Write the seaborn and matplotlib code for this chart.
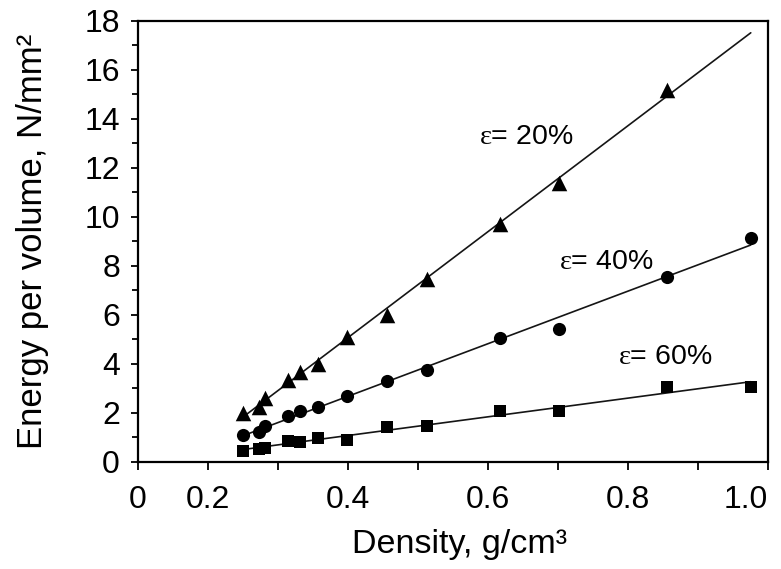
import numpy as np
import pandas as pd
import seaborn as sns
import matplotlib.pyplot as plt
from matplotlib.ticker import MultipleLocator

# Data
density = [0.250, 0.273, 0.282, 0.314, 0.332, 0.357, 0.399, 0.455, 0.512, 0.617, 0.701, 0.855, 0.975]
energy_20 = [2.0, 2.25, 2.6, 3.35, 3.65, 4.0, 5.1, 6.0, 7.45, 9.7, 11.4, 15.2, np.nan]
energy_40 = [1.07, 1.2, 1.45, 1.88, 2.05, 2.25, 2.7, 3.3, 3.75, 5.05, 5.4, 7.55, 9.15]
energy_60 = [0.45, 0.52, 0.55, 0.85, 0.8, 0.97, 0.9, 1.42, 1.47, 2.08, 2.08, 3.05, 3.05]
strains = ["20%", "40%", "60%"]
label_pos = {"20%": (0.654, 13.25), "40%": (0.769, 8.15), "60%": (0.853, 4.27)}

x_ticks = [0.1, 0.2, 0.4, 0.6, 0.8, 1.0]
x_tick_labels = ["0", "0.2", "0.4", "0.6", "0.8", "1.0"]
y_ticks = list(range(0, 19, 2))

df = pd.DataFrame({
    "density": density * 3,
    "energy": energy_20 + energy_40 + energy_60,
    "strain": [s for s in strains for _ in density],
}).dropna()

sns.set_style("ticks")
plt.rcParams["font.family"] = ["Liberation Sans", "DejaVu Sans"]
plt.rcParams["mathtext.fontset"] = "custom"
plt.rcParams["mathtext.rm"] = "Liberation Serif"
plt.rcParams["mathtext.default"] = "rm"
plt.rcParams["text.color"] = "black"
plt.rcParams["axes.labelcolor"] = "black"

fig = plt.figure(figsize=(7.81, 5.69), dpi=100)
ax = fig.add_axes([0.1767, 0.1886, 0.807, 0.7745])

markers = {"20%": "^", "40%": "o", "60%": "s"}
sizes = {"20%": 125, "40%": 90, "60%": 85}
xs = np.array([df["density"].min() - 0.006, df["density"].max()])

for strain in strains:
    sub = df[df["strain"] == strain]
    sns.scatterplot(data=sub, x="density", y="energy", marker=markers[strain],
                    s=sizes[strain], color="black", linewidth=0, ax=ax, zorder=3)
    slope, icpt = np.polyfit(sub["density"], sub["energy"], 1)
    sns.lineplot(x=xs, y=slope * xs + icpt, color="#151515", linewidth=1.2, ax=ax)
    tx, ty = label_pos[strain]
    ax.text(tx, ty, "$ε$= " + strain, fontsize=20.5, ha="center", va="center",
            color="black")

ax.set_xlim(0.1, 1.0)
ax.set_ylim(0, 18)
ax.set_xticks(x_ticks)
ax.set_xticklabels(x_tick_labels)
ax.get_xticklabels()[-1].set_horizontalalignment("right")
ax.xaxis.set_minor_locator(MultipleLocator(0.1))
ax.set_yticks(y_ticks)
ax.yaxis.set_minor_locator(MultipleLocator(1))

ax.tick_params(axis="both", which="both", direction="out", width=1.3, colors="black",
               labelsize=23)
ax.tick_params(axis="x", which="both", length=6, pad=11)
ax.tick_params(axis="y", which="major", length=5, pad=8)
ax.tick_params(axis="y", which="minor", length=4)

for sp in ax.spines.values():
    sp.set_visible(True)
    sp.set_linewidth(1.6)
    sp.set_color("black")

ax.set_xlabel("Density, g/cm³", fontsize=24.5, color="black")
ax.set_ylabel("Energy per volume, N/mm²", fontsize=25, color="black")
ax.xaxis.set_label_coords(0.51, -0.152)
ax.yaxis.set_label_coords(-0.142, 0.5)

fig.savefig("out.png", dpi=100)
